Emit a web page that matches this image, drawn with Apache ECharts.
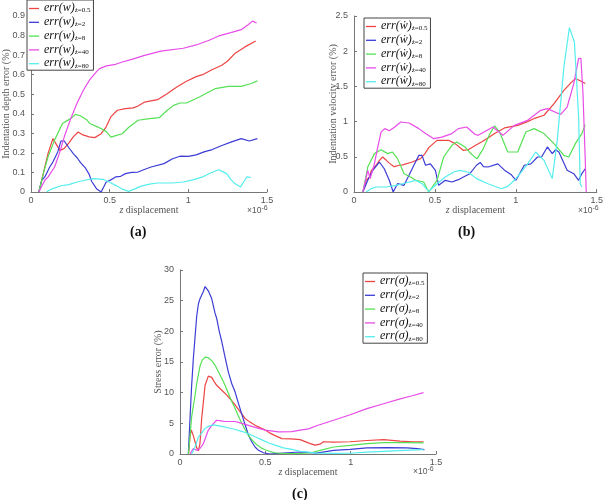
<!DOCTYPE html>
<html><head><meta charset="utf-8">
<script src="https://cdn.jsdelivr.net/npm/echarts@6/dist/echarts.min.js"></script>
<style>html,body{margin:0;padding:0;background:#fff}#c{width:606px;height:500px}</style>
</head><body><div id="c"></div>
<script>
// ---------- DATA (x in units of 1e-6) ----------
const zLabels = ['0.5', '2', '8', '40', '80'];
const xTicks = [0, 0.5, 1, 1.5];

// (a) Indentation depth error
const a_r = [[0.05,0],[0.078,0.094],[0.108,0.196],[0.139,0.273],[0.16,0.245],[0.184,0.213],[0.21,0.222],[0.24,0.25],[0.27,0.283],[0.3,0.307],[0.33,0.292],[0.37,0.282],[0.405,0.278],[0.446,0.298],[0.477,0.332],[0.507,0.384],[0.549,0.418],[0.6,0.426],[0.65,0.43],[0.68,0.44],[0.722,0.46],[0.804,0.472],[0.865,0.503],[0.927,0.537],[0.988,0.566],[1.05,0.59],[1.09,0.6],[1.15,0.625],[1.213,0.648],[1.25,0.67],[1.295,0.708],[1.36,0.742],[1.428,0.772]];
const a_b = [[0.05,0],[0.068,0.06],[0.088,0.077],[0.119,0.128],[0.139,0.153],[0.17,0.205],[0.19,0.26],[0.2,0.27],[0.21,0.262],[0.242,0.225],[0.27,0.195],[0.293,0.175],[0.315,0.15],[0.344,0.125],[0.37,0.09],[0.385,0.055],[0.416,0.017],[0.446,0],[0.477,0.05],[0.507,0.062],[0.538,0.077],[0.57,0.08],[0.6,0.094],[0.64,0.1],[0.68,0.102],[0.72,0.115],[0.763,0.128],[0.845,0.145],[0.9,0.17],[0.947,0.183],[1.0,0.182],[1.05,0.19],[1.1,0.205],[1.152,0.217],[1.213,0.238],[1.275,0.256],[1.336,0.273],[1.387,0.261],[1.439,0.273]];
const a_g = [[0.05,0],[0.078,0.094],[0.108,0.179],[0.149,0.264],[0.2,0.35],[0.23,0.365],[0.26,0.38],[0.282,0.397],[0.313,0.39],[0.354,0.37],[0.374,0.35],[0.426,0.332],[0.477,0.31],[0.508,0.281],[0.538,0.288],[0.58,0.298],[0.62,0.33],[0.68,0.367],[0.753,0.375],[0.815,0.38],[0.866,0.418],[0.906,0.443],[0.947,0.455],[0.988,0.455],[1.07,0.486],[1.172,0.529],[1.254,0.54],[1.336,0.54],[1.4,0.555],[1.439,0.568]];
const a_m = [[0.05,0],[0.088,0.06],[0.109,0.077],[0.15,0.128],[0.18,0.196],[0.211,0.281],[0.25,0.37],[0.293,0.455],[0.333,0.52],[0.374,0.575],[0.415,0.614],[0.436,0.631],[0.48,0.645],[0.538,0.653],[0.58,0.665],[0.641,0.678],[0.722,0.699],[0.825,0.72],[0.968,0.735],[1.05,0.752],[1.132,0.776],[1.2,0.8],[1.27,0.815],[1.336,0.83],[1.38,0.855],[1.408,0.874],[1.434,0.864]];
const a_c = [[0.098,0],[0.13,0.015],[0.19,0.032],[0.24,0.038],[0.293,0.051],[0.34,0.06],[0.395,0.068],[0.457,0.065],[0.5,0.05],[0.538,0.034],[0.58,0.015],[0.62,0.003],[0.66,0.016],[0.7,0.03],[0.753,0.04],[0.804,0.046],[0.9,0.046],[0.968,0.051],[1.03,0.062],[1.09,0.077],[1.14,0.097],[1.193,0.114],[1.244,0.094],[1.27,0.065],[1.295,0.043],[1.332,0.026],[1.35,0.05],[1.373,0.077],[1.398,0.074]];

// (b) Indentation velocity error
const b_r = [[0.055,0],[0.075,0.166],[0.096,0.213],[0.106,0.3],[0.137,0.38],[0.157,0.45],[0.177,0.497],[0.2,0.45],[0.218,0.41],[0.248,0.36],[0.28,0.38],[0.3,0.385],[0.36,0.426],[0.411,0.474],[0.44,0.55],[0.462,0.63],[0.513,0.734],[0.584,0.734],[0.625,0.687],[0.676,0.59],[0.706,0.6],[0.757,0.67],[0.788,0.71],[0.83,0.77],[0.869,0.83],[0.93,0.91],[1.012,0.947],[1.073,1.0],[1.12,1.05],[1.174,1.09],[1.236,1.255],[1.297,1.444],[1.34,1.55],[1.368,1.61],[1.398,1.58],[1.429,1.54]];
const b_b = [[0.055,0],[0.085,0.166],[0.116,0.308],[0.157,0.426],[0.187,0.33],[0.218,0.166],[0.242,0],[0.269,0.118],[0.309,0.095],[0.34,0.237],[0.37,0.38],[0.401,0.52],[0.42,0.52],[0.442,0.38],[0.472,0.4],[0.503,0.308],[0.523,0.095],[0.564,0.166],[0.605,0.142],[0.645,0.175],[0.676,0.213],[0.716,0.26],[0.757,0.38],[0.78,0.42],[0.8,0.36],[0.828,0.355],[0.889,0.4],[0.93,0.31],[0.97,0.25],[1.001,0.166],[1.052,0.38],[1.093,0.4],[1.134,0.497],[1.16,0.5],[1.195,0.64],[1.225,0.545],[1.246,0.6],[1.266,0.568],[1.317,0.31],[1.358,0.26],[1.388,0.166],[1.408,0.26],[1.429,0.33]];
const b_g = [[0.055,0],[0.085,0.355],[0.126,0.545],[0.167,0.6],[0.208,0.545],[0.238,0.568],[0.269,0.474],[0.309,0.26],[0.35,0.213],[0.381,0.166],[0.43,0.142],[0.462,0],[0.513,0.166],[0.554,0.497],[0.605,0.663],[0.635,0.71],[0.686,0.64],[0.72,0.55],[0.76,0.47],[0.8,0.62],[0.838,0.82],[0.869,0.94],[0.9,0.85],[0.95,0.568],[1.012,0.568],[1.062,0.852],[1.113,0.9],[1.174,0.83],[1.236,0.687],[1.297,0.52],[1.327,0.497],[1.368,0.687],[1.408,0.83],[1.429,0.957]];
const b_m = [[0.055,0],[0.085,0.308],[0.1,0.19],[0.126,0.4],[0.145,0.62],[0.167,0.85],[0.19,0.9],[0.218,0.87],[0.25,0.92],[0.289,0.994],[0.34,0.98],[0.401,0.9],[0.442,0.83],[0.493,0.758],[0.543,0.78],[0.605,0.83],[0.645,0.9],[0.696,0.923],[0.747,0.82],[0.767,0.805],[0.859,0.923],[0.92,0.805],[0.991,0.947],[1.073,1.018],[1.154,1.16],[1.195,1.184],[1.276,1.1],[1.317,1.207],[1.358,1.54],[1.388,1.895],[1.402,1.9],[1.415,1.4],[1.429,0.45],[1.435,0]];
const b_c = [[0.075,0],[0.106,0.047],[0.137,0.071],[0.2,0.071],[0.26,0.095],[0.32,0.128],[0.381,0.166],[0.42,0.118],[0.462,0.01],[0.513,0.118],[0.564,0.213],[0.615,0.284],[0.655,0.308],[0.706,0.28],[0.757,0.19],[0.828,0.118],[0.91,0.047],[0.95,0.08],[0.991,0.166],[1.032,0.28],[1.073,0.4],[1.123,0.568],[1.174,0.45],[1.225,0.19],[1.256,0.734],[1.297,1.776],[1.331,2.335],[1.362,2.13],[1.388,1.065],[1.398,0.118],[1.408,0.07]];

// (c) Stress error
const c_r = [[0.05,0],[0.059,3.0],[0.066,3.9],[0.078,3.0],[0.098,1.0],[0.108,0.5],[0.117,1.7],[0.127,5.8],[0.137,8.5],[0.147,11.2],[0.166,12.7],[0.186,12.5],[0.2,11.8],[0.215,11.2],[0.245,10.4],[0.274,9.6],[0.3,8.8],[0.323,8.0],[0.352,6.9],[0.381,5.8],[0.41,5.2],[0.44,4.7],[0.469,4.3],[0.499,3.9],[0.528,3.4],[0.557,3.0],[0.597,2.5],[0.65,2.45],[0.704,2.35],[0.763,1.7],[0.792,1.45],[0.82,1.6],[0.841,2.0],[0.9,1.95],[0.997,2.0],[1.095,2.2],[1.193,2.35],[1.29,2.1],[1.36,2.0],[1.427,2.0]];
const c_b = [[0.049,0],[0.059,6.0],[0.068,11.0],[0.078,15.5],[0.088,19.0],[0.098,22.5],[0.108,24.5],[0.117,25.3],[0.127,25.6],[0.137,26.5],[0.147,27.3],[0.156,27.4],[0.166,26.6],[0.186,25.3],[0.205,23.0],[0.215,22.1],[0.23,20.0],[0.245,18.3],[0.264,15.8],[0.283,13.4],[0.303,11.5],[0.323,10.1],[0.342,8.3],[0.362,6.5],[0.381,4.8],[0.401,3.1],[0.42,2.0],[0.44,1.14],[0.46,0.6],[0.489,0.2],[0.528,0],[0.606,0.16],[0.704,0.33],[0.8,0.15],[0.9,0.6],[0.997,0.76],[1.095,1.0],[1.212,1.03],[1.33,1.0],[1.389,0.87],[1.432,0.7]];
const c_g = [[0.049,0],[0.059,3.0],[0.068,6.0],[0.078,7.8],[0.088,9.5],[0.098,11.5],[0.108,13.0],[0.117,14.3],[0.13,15.3],[0.147,15.8],[0.166,15.7],[0.176,15.6],[0.19,15.1],[0.205,14.5],[0.225,13.4],[0.245,12.3],[0.264,11.2],[0.283,9.9],[0.303,8.6],[0.323,7.4],[0.342,6.2],[0.362,5.0],[0.381,4.0],[0.401,3.05],[0.425,2.2],[0.45,1.5],[0.475,1.0],[0.499,0.7],[0.528,0.4],[0.557,0.2],[0.6,0.08],[0.645,0.05],[0.704,0.08],[0.763,0.16],[0.821,0.6],[0.9,1.14],[0.997,1.4],[1.095,1.7],[1.193,1.85],[1.33,1.85],[1.427,1.8]];
const c_m = [[0.059,0],[0.078,0.9],[0.098,0.6],[0.117,0.9],[0.137,1.7],[0.15,2.7],[0.166,3.9],[0.19,4.8],[0.215,5.5],[0.24,5.4],[0.264,5.3],[0.323,5.3],[0.362,5.0],[0.42,4.5],[0.499,3.9],[0.577,3.6],[0.655,3.65],[0.704,3.9],[0.753,4.1],[0.8,4.6],[0.9,5.5],[0.997,6.4],[1.095,7.4],[1.193,8.2],[1.29,9.0],[1.36,9.5],[1.427,10.0]];
const c_c = [[0.068,0],[0.088,1.1],[0.108,2.8],[0.127,3.4],[0.147,4.2],[0.166,4.5],[0.196,4.75],[0.245,4.5],[0.293,4.2],[0.323,4.0],[0.36,3.7],[0.401,3.3],[0.44,2.8],[0.48,2.3],[0.52,1.8],[0.557,1.45],[0.606,1.0],[0.655,0.75],[0.704,0.45],[0.753,0.3],[0.8,0.15],[0.9,0.1],[0.997,0.12],[1.095,0.3],[1.19,0.42],[1.31,0.58],[1.427,0.7]];

// ---------- STYLE ----------
const colors = ['#ee4444', '#3c3cd6', '#55e055', '#e84ce8', '#55eded'];
const serif = "'Liberation Serif', 'DejaVu Serif', serif";
const sans = "'Liberation Sans', Arial, sans-serif";
const symb = { a: 'w', b: '\u1E87', c: '\u03C3' };

const chart = echarts.init(document.getElementById('c'), null, { renderer: 'canvas' });

const grids = [
  { left: 22, top: 16, width: 245, height: 176 },
  { left: 354, top: 16, width: 246, height: 176 },
  { left: 180, top: 270, width: 256, height: 184 }
];
const yCfg = [
  { max: 0.9, interval: 0.1, name: 'Indentation depth error (%)', gap: 20 },
  { max: 2.5, interval: 0.5, name: 'Indentation velocity error (%)', gap: 16 },
  { max: 30, interval: 5, name: 'Stress error (%)', gap: 17 }
];
const panelData = {
  a: [a_r, a_b, a_g, a_m, a_c],
  b: [b_r, b_b, b_g, b_m, b_c],
  c: [c_r, c_b, c_g, c_m, c_c]
};
const keys = ['a', 'b', 'c'];

const axisLine = { lineStyle: { color: '#777', width: 1 } };
const axisTick = { inside: true, length: 3, lineStyle: { color: '#777' } };
const fmt = v => String(+v.toFixed(2));
const xLabel = { color: '#555', fontSize: 9, fontFamily: sans, margin: 4, formatter: fmt };
const yLabel = { color: '#555', fontSize: 9, fontFamily: sans, margin: 6, formatter: fmt };

const xAxis = keys.map((k, i) => ({
  type: 'value', gridIndex: i, min: 0, max: 1.5, interval: 0.5,
  axisLine, axisTick, axisLabel: xLabel, splitLine: { show: false },
  name: '{i|z} displacement', nameLocation: 'middle', nameGap: 13, nameMoveOverlap: false,
  nameTextStyle: { fontFamily: serif, fontSize: 10, color: '#555',
    rich: { i: { fontFamily: serif, fontStyle: 'italic', fontSize: 10, color: '#555' } } }
}));
const yAxis = keys.map((k, i) => ({
  type: 'value', gridIndex: i, min: 0, max: yCfg[i].max, interval: yCfg[i].interval,
  axisLine: Object.assign({ show: true }, axisLine), axisTick, axisLabel: yLabel, splitLine: { show: false },
  name: yCfg[i].name, nameLocation: 'middle', nameRotate: 90, nameGap: yCfg[i].gap, nameMoveOverlap: false,
  nameTextStyle: { fontFamily: serif, fontSize: 10, color: '#555' }
}));

const series = [];
keys.forEach((k, i) => {
  panelData[k].forEach((d, j) => {
    series.push({
      name: k + '|' + zLabels[j], type: 'line', xAxisIndex: i, yAxisIndex: i,
      data: d, symbol: 'none', smooth: false,
      lineStyle: { color: colors[j], width: 1.2 }, itemStyle: { color: colors[j] },
      z: 2 + j
    });
  });
});

const legendPos = [
  { left: 27, top: 0 },
  { left: 364, top: 18 },
  { left: 363, top: 273 }
];
const legend = keys.map((k, i) => Object.assign({
  orient: 'vertical',
  data: zLabels.map(z => k + '|' + z),
  icon: 'rect',
  itemWidth: 10, itemHeight: 1.3, itemGap: 1.8,
  padding: [2, 3, 1, 2],
  borderColor: '#444', borderWidth: 1, backgroundColor: '#fff',
  selectedMode: false,
  formatter: name => {
    const z = name.split('|')[1];
    return '{m|err(' + symb[k] + ')}{s|\u017C=' + z + '}';
  },
  textStyle: {
    rich: {
      m: { fontFamily: serif, fontStyle: 'italic', fontSize: 12, color: '#111', lineHeight: 11, verticalAlign: 'bottom' },
      s: { fontFamily: serif, fontSize: 7, color: '#111', lineHeight: 7, verticalAlign: 'bottom' }
    }
  }
}, legendPos[i]));

const expo = (left, top) => ({
  type: 'text', left, top,
  style: {
    text: '{a|\u00D710}{b|-6}',
    rich: {
      a: { fontFamily: sans, fontSize: 8.5, fill: '#555', verticalAlign: 'bottom', lineHeight: 10 },
      b: { fontFamily: sans, fontSize: 7, fill: '#555', verticalAlign: 'top', lineHeight: 10 }
    }
  }
});
const panelLabel = (text, x, y) => ({
  type: 'text', left: x, top: y,
  style: { text, font: "bold 14px 'Liberation Serif', serif", fill: '#111' }
});

chart.setOption({
  animation: false,
  backgroundColor: '#fff',
  grid: grids,
  xAxis, yAxis, series, legend,
  graphic: [
    expo(247, 205), expo(578, 205), expo(413, 466),
    panelLabel('(a)', 130, 225), panelLabel('(b)', 458, 225), panelLabel('(c)', 292, 487)
  ]
});
</script>
</body></html>
